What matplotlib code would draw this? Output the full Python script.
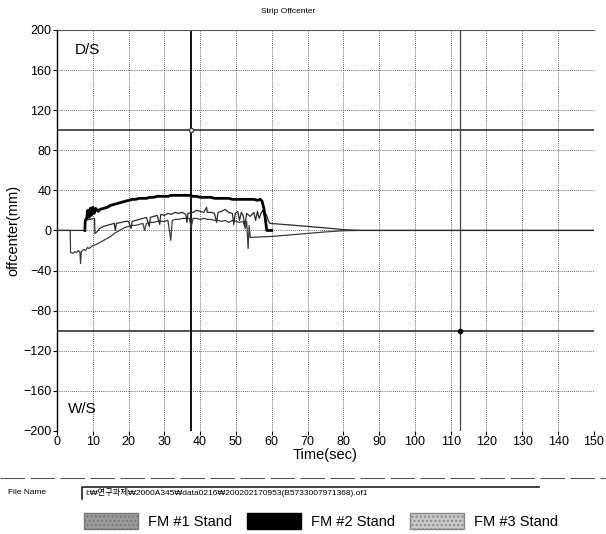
import matplotlib.pyplot as plt
from matplotlib.lines import Line2D
from matplotlib.patches import Patch

# FM #2 stand (thick black trace)
t_fm2 = [7.8, 7.9, 8.3, 8.6, 9.0, 9.3, 9.6, 10.0, 10.4, 10.8, 11.5,
         12, 13, 14, 15, 16, 17, 18, 19, 20, 21, 22, 23, 24, 25, 26, 27,
         28, 29, 30, 31, 32, 33, 34, 35, 36, 37, 38, 39, 40, 41, 42, 43,
         44, 45, 46, 47, 48, 49, 50, 51, 52, 53, 54, 55, 56, 56.8, 57.3,
         57.8, 58.2, 58.6, 60]
v_fm2 = [0, 10, 12, 20, 13, 22, 15, 23, 17, 22, 19,
         21, 22, 23, 25, 26, 27, 28, 29, 30, 31, 31, 32, 32, 32, 33, 33,
         34, 34, 34, 34, 35, 35, 35, 35, 35, 35, 34, 34, 33, 33, 33, 33,
         32, 32, 32, 32, 32, 31, 31, 31, 31, 31, 31, 31, 30, 31, 29,
         22, 12, 0, 0]

# FM #3 stand (noisy middle trace)
t_fm3 = [0, 7.8, 7.9, 10.5, 10.6, 11, 12, 13, 14, 15, 16, 16.3, 16.6, 18,
         19, 20, 20.7, 21, 22, 23, 24, 25, 25.8, 26.1, 27, 28, 28.7, 29,
         30, 31, 32, 33, 34, 35, 36, 36.3, 36.6, 38, 39, 40, 41, 41.8, 42,
         43, 44, 44.6, 45, 46, 47, 48, 49, 49.4, 49.8, 50.5, 51, 51.5, 52,
         52.5, 53, 54, 55, 55.5, 56, 56.5, 57, 57.5, 58, 58.5, 59, 59.5,
         65, 70, 75, 80, 85, 150]
v_fm3 = [0, 0, 10, 12, -3, -2, 2, 4, 5, 6, 7, 0, 7, 8,
         9, 9, 2, 9, 10, 11, 12, 13, 4, 13, 14, 15, 6, 16,
         15, 17, 16, 18, 17, 18, 16, 8, 17, 18, 20, 19, 18, 23, 18,
         18, 17, 8, 18, 19, 21, 18, 17, 6, 17, 19, 10, 18, 15,
         5, 17, 14, 18, 10, 19, 12, 17, 20, 14, 16, 10, 7,
         5.5, 4, 2.5, 0.8, 0, 0]

# FM #1 stand (lower trace)
t_fm1 = [0, 3.7, 3.8, 4.5, 5, 5.5, 6, 6.4, 6.6, 6.8, 7.5, 8, 8.5, 9, 10,
         11, 12, 13, 14, 15, 16, 17, 18, 19, 20, 21, 22, 23, 24, 24.5, 25,
         26, 27, 28, 29, 30, 31, 31.8, 32.2, 33, 34, 35, 36, 37, 37.5, 38,
         39, 40, 41, 42, 43, 44, 45, 46, 47, 48, 49, 50, 51, 52, 52.6, 53,
         53.4, 53.7, 54, 60, 65, 70, 75, 80, 85, 150]
v_fm1 = [0, 0, -22, -23, -21, -22, -20, -22, -33, -21, -19, -20, -17, -18, -15,
         -14, -12, -10, -8, -6, -3, -1, 1, 3, 4, 5, 5, 6, 7, 0, 7,
         8, 8, 9, 9, 9, 10, -10, 10, 11, 11, 12, 12, 12, 3, 12,
         12, 11, 12, 11, 11, 10, 10, 9, 10, 8, 10, 9, 8, 9, 2, 9,
         -18, 5, -7, -6, -4.5, -3, -1.5, -0.3, 0, 0]

x_ticks = list(range(0, 151, 10))
y_ticks = list(range(-200, 201, 40))
limit_lines = [100, -100]
cursor_times = [37.5, 112.5]
legend_labels = ["FM #1 Stand", "FM #2 Stand", "FM #3 Stand"]
file_name = "I:₩연구과제₩2000A345₩data0216₩200202170953(B5733007971368).of1"

plt.rcParams["font.family"] = ["Liberation Sans", "DejaVu Sans"]

fig = plt.figure(figsize=(6.06, 5.34), dpi=100)
ax = fig.add_axes([0.094, 0.193, 0.886, 0.751])

# grid and reference lines
for x in x_ticks:
    ax.axvline(x, color="#333333", lw=0.6, ls=(0, (1, 1.5)), zorder=1)
for y in y_ticks:
    ax.axhline(y, color="#333333", lw=0.6, ls=(0, (1, 1.5)), zorder=1)
for y in limit_lines:
    ax.axhline(y, color="#222222", lw=1.1, zorder=2)
ax.axvline(cursor_times[0], color="black", lw=1.3, zorder=2)
ax.axvline(cursor_times[1], color="#444444", lw=0.9, zorder=2)
ax.plot(cursor_times[0], limit_lines[0], "o", ms=3, mfc="white", mec="#444444", zorder=5)
ax.plot(cursor_times[1], limit_lines[1], "o", ms=3, color="black", zorder=5)

# traces
ax.plot(t_fm1, v_fm1, color="#3c3c3c", lw=0.9, zorder=3)
ax.plot(t_fm3, v_fm3, color="#2a2a2a", lw=0.9, zorder=3)
ax.plot(t_fm2, v_fm2, color="black", lw=2.0, zorder=4)

ax.set_xlim(0, 150)
ax.set_ylim(-200, 200)
ax.set_xticks(x_ticks)
ax.set_yticks(y_ticks)
ax.tick_params(labelsize=9, length=3, width=0.8, pad=1)
for side in ["right", "bottom"]:
    ax.spines[side].set_visible(False)
ax.spines["top"].set_color("#555555")
ax.spines["top"].set_linewidth(0.8)
ax.spines["left"].set_linewidth(1.0)

ax.text(5, 180, "D/S", fontsize=11, ha="left", va="center")
ax.text(3, -178, "W/S", fontsize=11, ha="left", va="center")
ax.set_xlabel("Time(sec)", fontsize=10.5, labelpad=0)
ax.set_ylabel("offcenter(mm)", fontsize=10.5, labelpad=2)
fig.text(0.475, 0.978, "Strip Offcenter", fontsize=6, ha="center", va="center")

# separator and file name row
fig.add_artist(Line2D([0.0, 1.0], [0.105, 0.105], color="#555555", lw=0.8,
                      ls=(0, (22, 5)), transform=fig.transFigure))
fig.text(0.013, 0.077, "File Name", fontsize=6, ha="left", va="center")
fig.add_artist(Line2D([0.135, 0.135, 0.89], [0.066, 0.088, 0.088], color="#222222",
                      lw=1.2, transform=fig.transFigure))
fig.text(0.14, 0.077, file_name, fontsize=6, ha="left", va="center",
         family=["Liberation Sans", "Noto Sans CJK KR", "DejaVu Sans"])

# legend
handles = [Patch(facecolor="#9a9a9a", edgecolor="#777777", hatch="...."),
           Patch(facecolor="black", edgecolor="black"),
           Patch(facecolor="#c8c8c8", edgecolor="#888888", hatch="....")]
fig.legend(handles, legend_labels, loc="center", bbox_to_anchor=(0.53, 0.025),
           ncol=3, frameon=False, fontsize=10.5, handlelength=3.7, handleheight=1.3,
           handletextpad=0.7, columnspacing=1.0)

plt.savefig("out.png", dpi=100)
